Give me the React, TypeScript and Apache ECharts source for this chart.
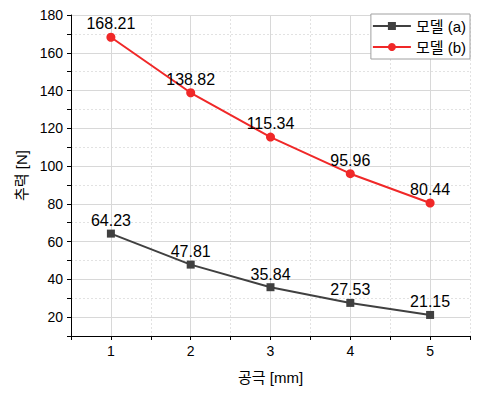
import React, { useEffect, useRef } from "react";
import * as echarts from "echarts";

const gapValues = [1, 2, 3, 4, 5];
const modelA = [64.23, 47.81, 35.84, 27.53, 21.15];
const modelB = [168.21, 138.82, 115.34, 95.96, 80.44];
const seriesNames = ["모델 (a)", "모델 (b)"];
const xAxisName = "공극 [mm]";
const yAxisName = "추력 [N]";

const FONT = "'Liberation Sans', Arial, 'Noto Sans CJK KR', sans-serif";

export default function App() {
  const ref = useRef<HTMLDivElement>(null);
  useEffect(() => {
    if (!ref.current) return;
    const chart = echarts.init(ref.current, undefined, { renderer: "svg" });
    const xBase = { type: "value", min: 0.5, max: 5.5, interval: 0.5 };
    const yBase = { type: "value", min: 10, max: 180, interval: 10 };
    const toPairs = (vals: number[]) => gapValues.map((x, i) => [x, vals[i]]);
    const labelStyle = {
      show: true,
      position: "top",
      distance: 1,
      color: "#000",
      fontSize: 16,
      fontFamily: FONT,
    };
    chart.setOption({
      animation: false,
      textStyle: { fontFamily: FONT },
      grid: { left: 71, right: 29, top: 15, bottom: 58, containLabel: false },
      legend: {
        orient: "vertical",
        right: 29,
        top: 14,
        padding: [3, 4, 3, 1],
        itemGap: 3,
        itemWidth: 38,
        itemHeight: 10,
        backgroundColor: "#fff",
        borderColor: "#a0a0a0",
        borderWidth: 1,
        borderRadius: 0,
        textStyle: { fontSize: 15, color: "#000", fontFamily: FONT, lineHeight: 18 },
        data: seriesNames,
      },
      xAxis: [
        {
          ...xBase,
          position: "bottom",
          name: xAxisName,
          nameLocation: "middle",
          nameGap: 34,
          nameTextStyle: { fontSize: 15, color: "#000", fontFamily: FONT },
          axisLine: { show: true, onZero: false, lineStyle: { color: "#000", width: 1 } },
          axisTick: { show: true, inside: false, length: 4, lineStyle: { color: "#000" } },
          axisLabel: {
            fontSize: 14,
            color: "#000",
            margin: 8,
            formatter: (v: number) => (Number.isInteger(v) ? String(v) : ""),
          },
          splitLine: { show: true, lineStyle: { color: "#e2e2e2", type: [2, 2], width: 1 } },
        },
        {
          ...xBase,
          position: "bottom",
          axisLine: { show: false },
          axisTick: { show: false },
          axisLabel: { show: false },
          splitLine: { show: true, lineStyle: { color: ["rgba(0,0,0,0)", "#d8d8d8"], type: "solid", width: 1 } },
        },
      ],
      yAxis: [
        {
          ...yBase,
          position: "left",
          name: yAxisName,
          nameLocation: "middle",
          nameGap: 31,
          nameTextStyle: { fontSize: 15, color: "#000", fontFamily: FONT },
          axisLine: { show: true, onZero: false, lineStyle: { color: "#000", width: 1 } },
          axisTick: { show: true, inside: false, length: 4, lineStyle: { color: "#000" } },
          axisLabel: {
            fontSize: 14,
            color: "#000",
            margin: 8,
            formatter: (v: number) => (v % 20 === 0 ? String(v) : ""),
          },
          splitLine: { show: true, lineStyle: { color: "#e2e2e2", type: [2, 2], width: 1 } },
        },
        {
          ...yBase,
          position: "left",
          axisLine: { show: false },
          axisTick: { show: false },
          axisLabel: { show: false },
          splitLine: { show: true, lineStyle: { color: ["rgba(0,0,0,0)", "#d8d8d8"], type: "solid", width: 1 } },
        },
      ],
      series: [
        {
          name: seriesNames[0],
          type: "line",
          data: toPairs(modelA),
          symbol: "rect",
          symbolSize: 8,
          lineStyle: { color: "#404040", width: 2 },
          itemStyle: { color: "#404040" },
          label: labelStyle,
          z: 3,
        },
        {
          name: seriesNames[1],
          type: "line",
          data: toPairs(modelB),
          symbol: "circle",
          symbolSize: 9,
          lineStyle: { color: "#f02828", width: 2 },
          itemStyle: { color: "#f02828" },
          label: labelStyle,
          z: 3,
        },
      ],
    });
    return () => chart.dispose();
  }, []);
  return (
    <div
      ref={ref}
      style={{ position: "fixed", left: 0, top: 0, width: 499, height: 394, background: "#fff" }}
    />
  );
}
